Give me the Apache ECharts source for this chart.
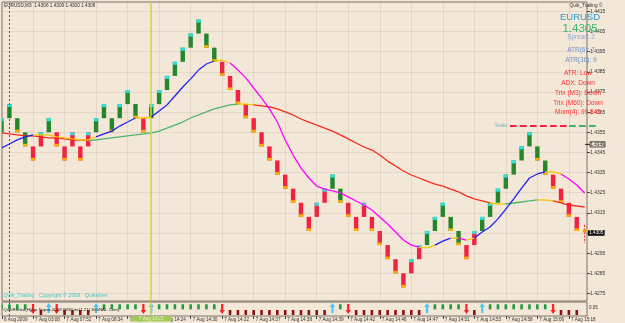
<!DOCTYPE html>
<html><head><meta charset="utf-8">
<script src="https://cdn.jsdelivr.net/npm/echarts@6/dist/echarts.min.js"></script>
<style>html,body{margin:0;padding:0;background:#F3E7D8;}#c{width:625px;height:323px;}</style>
</head><body><div id="c"></div>
<script>
// ---- data ----
const brickOpen = [1.4355,1.4362,1.4362,1.4355,1.4348,1.4348,1.4355,1.4355,1.4348,1.4348,
 1.4348,1.4348,1.4355,1.4362,1.4362,1.4362,1.4369,1.4369,1.4362,1.4362,
 1.4369,1.4376,1.4383,1.4390,1.4397,1.4404,1.4404,1.4397,1.4390,1.4383,
 1.4376,1.4369,1.4362,1.4355,1.4348,1.4341,1.4334,1.4327,1.4320,1.4313,
 1.4313,1.4320,1.4327,1.4327,1.4320,1.4313,1.4313,1.4313,1.4306,1.4299,
 1.4292,1.4285,1.4285,1.4292,1.4299,1.4306,1.4313,1.4313,1.4306,1.4299,
 1.4299,1.4306,1.4313,1.4320,1.4327,1.4334,1.4341,1.4348,1.4348,1.4341,
 1.4334,1.4327,1.4320,1.4313];
const brickClose = [1.4362,1.4369,1.4355,1.4348,1.4341,1.4355,1.4362,1.4348,1.4341,1.4355,
 1.4341,1.4355,1.4362,1.4369,1.4355,1.4369,1.4376,1.4362,1.4355,1.4369,
 1.4376,1.4383,1.4390,1.4397,1.4404,1.4411,1.4397,1.4390,1.4383,1.4376,
 1.4369,1.4362,1.4355,1.4348,1.4341,1.4334,1.4327,1.4320,1.4313,1.4306,
 1.4320,1.4327,1.4334,1.4320,1.4313,1.4306,1.4320,1.4306,1.4299,1.4292,
 1.4285,1.4278,1.4292,1.4299,1.4306,1.4313,1.4320,1.4306,1.4299,1.4292,
 1.4306,1.4313,1.4320,1.4327,1.4334,1.4341,1.4348,1.4355,1.4341,1.4334,
 1.4327,1.4320,1.4313,1.4306];
// 1 = green body, 0 = red body
const brickBody = [1,1,1,1,0,0,1,0,0,0, 0,0,1,1,1,1,1,1,0,1, 1,1,1,1,1,1,1,1,0,0,
 0,0,0,0,0,0,0,0,0,0, 0,0,1,1,0,0,0,0,0,0, 0,0,0,0,1,1,1,1,1,0,
 0,1,1,1,1,1,1,1,1,1, 0,0,0,0];
const curOpen = 1.4306, curHigh = 1.4309, curLow = 1.4300, curClose = 1.4306;
const fastMA = [1.43472,1.43492,1.43512,1.43527,1.43537,1.43537,1.43537,1.43527,1.43522,1.43517,
 1.43512,1.43512,1.43527,1.43542,1.43556,1.43581,1.43601,1.43621,1.43621,1.43626,
 1.43656,1.43686,1.43730,1.43775,1.43815,1.43859,1.43889,1.43904,1.43909,1.43894,
 1.43859,1.43820,1.43770,1.43720,1.43666,1.43601,1.43512,1.43437,1.43373,1.43323,
 1.43283,1.43268,1.43259,1.43249,1.43229,1.43209,1.43189,1.43164,1.43129,1.43095,
 1.43055,1.43015,1.42990,1.42980,1.42976,1.42990,1.43010,1.43025,1.43025,1.43015,
 1.43025,1.43055,1.43080,1.43120,1.43169,1.43219,1.43273,1.43323,1.43343,1.43353,
 1.43353,1.43343,1.43318,1.43288,1.43249];
// 1 rising, 0 turning, -1 falling (segment i -> i+1)
const fastTrend = [1,1,1,1, 0,0,0,0,0,0,0,0, 1,1,1,1,1, 0,0, 1,1,1,1,1,1,1,1, 0,0,
 -1,-1,-1,-1,-1,-1,-1,-1,-1,-1,-1,-1,-1,-1,-1,-1,-1,-1,-1,-1,-1,-1,-1,-1,
 0,0, 1,1, 0, -1, 0, 1,1,1,1,1,1,1,1,1, 0,0, -1,-1,-1];
const slowMA = [1.43547,1.43542,1.43537,1.43532,1.43532,1.43527,1.43522,1.43522,1.43517,1.43512,
 1.43512,1.43507,1.43512,1.43517,1.43522,1.43527,1.43532,1.43537,1.43542,1.43547,
 1.43556,1.43571,1.43586,1.43601,1.43621,1.43636,1.43651,1.43666,1.43676,1.43686,
 1.43690,1.43690,1.43686,1.43681,1.43676,1.43666,1.43651,1.43636,1.43616,1.43601,
 1.43586,1.43571,1.43556,1.43537,1.43517,1.43497,1.43477,1.43462,1.43437,1.43407,
 1.43383,1.43358,1.43338,1.43323,1.43308,1.43293,1.43283,1.43268,1.43254,1.43234,
 1.43219,1.43209,1.43199,1.43194,1.43194,1.43199,1.43204,1.43209,1.43214,1.43214,
 1.43209,1.43199,1.43189,1.43184,1.43179];
const slowTrend = [-1,-1,-1,-1,-1,-1,-1,-1,-1,-1,-1,
 1,1,1,1,1,1,1,1,1,1,1,1,1,1,1,1,1,1,1,
 0,0,
 -1,-1,-1,-1,-1,-1,-1,-1,-1,-1,-1,-1,-1,-1,-1,-1,-1,-1,-1,-1,-1,-1,-1,-1,-1,-1,-1,-1,-1,-1,
 0,0, 1,1,1,1, 0,0, -1,-1,-1,-1];
const priceTicks = [1.4275,1.4285,1.4295,1.4305,1.4315,1.4325,1.4335,1.4345,1.4355,1.4365,1.4375,1.4385,1.4395,1.4405,1.4415];
const timeIdx = [0,4,8,12,16,20,24,28,32,36,40,44,48,52,56,60,64,68,72];
const timeLabels = ['6 Aug 2009','7 Aug 03:08','7 Aug 07:52','7 Aug 08:34','7 Aug 14:22','7 Aug 14:24','7 Aug 14:30',
 '7 Aug 14:32','7 Aug 14:37','7 Aug 14:38','7 Aug 14:39','7 Aug 14:42','7 Aug 14:46','7 Aug 14:47','7 Aug 14:51',
 '7 Aug 14:53','7 Aug 14:58','7 Aug 15:06','7 Aug 15:18'];
const markerIdx = 19, markerTime = '7 Aug 14:23';
const separatorIdx = 1;
const lastPrice = 1.4305, stopPrice = 1.4349;
const infoLines = ['ATR(6): 7','ATR(36): 9'];
const alertLines = ['ATR: Low','ADX: Down','Trix (M3): Down','Trix (M60): Down','Mom(4): 99.845'];

// ---- chart ----
const X0 = 0.06, X1 = 74.30, Y0 = 1.427124, Y1 = 1.441969;
const FONT = 'Liberation Sans';
const BG = '#F3E7D8';
const chart = echarts.init(document.getElementById('c'), null, {renderer:'canvas', width:625, height:323});

const brickData = brickOpen.map((o,i)=>[i,o,brickClose[i],brickBody[i]]);
const fastData = fastMA.slice(0,-1).map((v,i)=>[i,v,fastMA[i+1],fastTrend[i]]);
const slowData = slowMA.slice(0,-1).map((v,i)=>[i,v,slowMA[i+1],slowTrend[i]]);
const sigData = brickBody.map((g,i)=>[i,g,i>0?brickBody[i-1]:g]);

function renderBrick(params, api){
  const i=api.value(0), o=api.value(1), c=api.value(2), g=api.value(3);
  const pT=api.coord([i,Math.max(o,c)]), pB=api.coord([i,Math.min(o,c)]);
  const w=4.4, x=pT[0]-w/2, h=pB[1]-pT[1];
  const ch=[{type:'rect',shape:{x:x,y:pT[1],width:w,height:h},style:{fill:g?'#23862A':'#F4203F'}}];
  if(c>o) ch.push({type:'rect',shape:{x:x,y:pT[1],width:w,height:3},style:{fill:'#2DE3E0'}});
  else ch.push({type:'rect',shape:{x:x,y:pB[1]-2.6,width:w,height:2.6},style:{fill:'#F8B400'}});
  return {type:'group',children:ch};
}
function segRenderer(colors){
  return function(params, api){
    const a=api.coord([api.value(0),api.value(1)]), b=api.coord([api.value(0)+1,api.value(2)]);
    return {type:'line',shape:{x1:a[0],y1:a[1],x2:b[0],y2:b[1]},style:{stroke:colors[api.value(3)+1],lineWidth:1.3}};
  };
}
function renderSig(params, api){
  const i=api.value(0), g=api.value(1), pg=api.value(2);
  const t=api.coord([i,1]), x=t[0], y0=t[1];
  if(g&&pg) return {type:'rect',shape:{x:x-1.3,y:y0+2.3,width:2.6,height:5},style:{fill:'#1E9A3C'}};
  if(!g&&!pg) return {type:'rect',shape:{x:x-1.3,y:y0+8,width:2.6,height:5},style:{fill:'#8E0F14'}};
  if(g) return {type:'polygon',shape:{points:[[x,y0+1],[x+2.7,y0+5],[x+1.1,y0+5],[x+1.1,y0+11],[x-1.1,y0+11],[x-1.1,y0+5],[x-2.7,y0+5]]},style:{fill:'#4CC6F0'}};
  return {type:'polygon',shape:{points:[[x,y0+12],[x+2.7,y0+8],[x+1.1,y0+8],[x+1.1,y0+2],[x-1.1,y0+2],[x-1.1,y0+8],[x-2.7,y0+8]]},style:{fill:'#FF2020'}};
}
function renderCur(params, api){
  const i=api.value(0);
  const h=api.coord([i,api.value(2)]), l=api.coord([i,api.value(3)]), c=api.coord([i,api.value(4)]);
  return {type:'group',children:[
    {type:'line',shape:{x1:h[0],y1:h[1],x2:l[0],y2:l[1]},style:{stroke:'#F02020',lineWidth:1,lineDash:[2,1.5]}},
    {type:'rect',shape:{x:c[0]-2,y:c[1]-1.5,width:4,height:3},style:{fill:'#F8A000'}}
  ]};
}
const gridLine = {type:'solid',color:'rgba(140,130,120,0.16)',width:1};

const option = {
  backgroundColor:BG,
  animation:false,
  grid:[{left:2,top:2,width:585,height:299,show:true,borderColor:'#7A7064',borderWidth:1,backgroundColor:'transparent'},
        {left:2,top:302,width:585,height:14,show:true,borderColor:'#7A7064',borderWidth:1,backgroundColor:'transparent'}],
  xAxis:[
    {type:'value',gridIndex:0,min:X0,max:X1,show:false},
    {type:'value',gridIndex:1,min:X0,max:X1,axisLine:{show:false},splitLine:{show:false},
     axisTick:{show:true,customValues:timeIdx.map(v=>Math.max(v,X0)),length:3,lineStyle:{color:'#444'}},
     axisLabel:{show:true,customValues:timeIdx.map(v=>Math.max(v,X0)),
       formatter:v=>{let k=0,d=1e9;timeIdx.forEach((t,j)=>{if(Math.abs(t-v)<d){d=Math.abs(t-v);k=j;}});return timeLabels[k];},
       fontSize:4.6,fontFamily:FONT,color:'#333',align:'left',margin:1,padding:[0,0,0,2]}}
  ],
  yAxis:[
    {type:'value',gridIndex:0,position:'right',min:Y0,max:Y1,splitLine:{show:false},axisLine:{show:false},
     axisTick:{show:true,customValues:priceTicks,length:3,lineStyle:{color:'#444'}},
     axisLabel:{customValues:priceTicks,formatter:v=>v.toFixed(4),fontSize:5,fontFamily:FONT,color:'#333',margin:3}},
    {type:'value',gridIndex:1,min:0,max:1,show:false}
  ],
  series:[
    {type:'line',xAxisIndex:0,yAxisIndex:0,data:[],silent:true,z:1,
     markLine:{silent:true,symbol:'none',precision:6,label:{show:false},animation:false,
       data:[...priceTicks.map(v=>({yAxis:v,lineStyle:gridLine})),
             ...timeIdx.map(v=>({xAxis:v,lineStyle:gridLine})),
             {xAxis:separatorIdx,lineStyle:{type:[2,2],color:'#555',width:1}},
             {xAxis:markerIdx,lineStyle:{type:'solid',color:'#CCD64A',width:1.5}}]}},
    {type:'line',xAxisIndex:1,yAxisIndex:1,data:[],silent:true,z:1,
     markLine:{silent:true,symbol:'none',precision:6,label:{show:false},animation:false,
       data:[{xAxis:separatorIdx,lineStyle:{type:[2,2],color:'#555',width:1}},
             {xAxis:markerIdx,lineStyle:{type:'solid',color:'#CCD64A',width:1.5}}]}},
    {type:'custom',xAxisIndex:0,yAxisIndex:0,data:brickData,renderItem:renderBrick,clip:true,z:3,silent:true},
    {type:'custom',xAxisIndex:0,yAxisIndex:0,data:slowData,renderItem:segRenderer(['#F52A1A','#F5C800','#4DB36B']),clip:true,z:4,silent:true},
    {type:'custom',xAxisIndex:0,yAxisIndex:0,data:fastData,renderItem:segRenderer(['#FF00FF','#F5C800','#2222EE']),clip:true,z:5,silent:true},
    {type:'custom',xAxisIndex:0,yAxisIndex:0,data:[[74,curOpen,curHigh,curLow,curClose]],renderItem:renderCur,clip:false,z:6,silent:true},
    {type:'custom',xAxisIndex:1,yAxisIndex:1,data:sigData,renderItem:renderSig,clip:true,z:3,silent:true}
  ]
};
chart.setOption(option);

// overlays positioned through the chart's own scales
const yLast = chart.convertToPixel({yAxisIndex:0}, lastPrice);
const yStop = chart.convertToPixel({yAxisIndex:0}, stopPrice);
const xMark = chart.convertToPixel({xAxisIndex:1}, markerIdx);
const T = (x,y,text,size,color,align,extra)=>Object.assign({type:'text',x:x,y:y,z:100,style:{text:text,fontSize:size,fontFamily:FONT,fill:color,align:align||'left',verticalAlign:'middle'}},extra||{});
const g = [];
g.push(T(4,5.5,'EURUSD,M3  1.4306 1.4309 1.4300 1.4306',4.7,'#333'));
g.push(T(586,5.5,'Quik_Trailing \u00A9',4.8,'#333','center'));
g.push(T(580,17,'EURUSD',9.5,'#2E9AD0','center'));
g.push(T(580,28.5,'1.4305',11.5,'#3CB46E','center'));
g.push(T(581,37.5,'Spread: 2',6.3,'#8AA8D8','center'));
infoLines.forEach((s,k)=>g.push(T(581,50+k*10,s,6.5,'#7090C0','center')));
alertLines.forEach((s,k)=>g.push(T(578,73.5+k*9.8,s,6.5,'#FF3333','center')));
g.push(T(495,126,'Snake',4.5,'#7FB0C0'));
g.push({type:'line',z:100,shape:{x1:510,y1:126,x2:570,y2:126},style:{stroke:'#F4203F',lineWidth:2,lineDash:[6.7,3.3]}});
g.push({type:'line',z:100,shape:{x1:569,y1:126,x2:597,y2:126},style:{stroke:'#3CB46E',lineWidth:2,lineDash:[6.7,3.3]}});
g.push({type:'line',z:100,shape:{x1:585,y1:yStop,x2:590,y2:yStop},style:{stroke:'#222',lineWidth:1}});
g.push({type:'rect',z:100,shape:{x:590,y:yStop-2.6,width:15,height:5.2},style:{fill:BG,stroke:'#222',lineWidth:0.8}});
g.push(T(597.5,yStop,stopPrice.toFixed(4),4.5,'#111','center',{z:101}));
g.push({type:'rect',z:100,shape:{x:588,y:yLast-2.8,width:16.5,height:5.6},style:{fill:'#111'}});
g.push(T(596.3,yLast,lastPrice.toFixed(4),4.6,'#fff','center',{z:101}));
g.push(T(3.5,295.5,'Quik_Trailing   Copyright \u00A9 2009   Quiksilver',5.3,'#3FC7C7'));
g.push(T(3.5,310,'QuikRenko(H)/ne Super-2009 (M3/Lite(1,21) SIGNAL Cum)',4.4,'#222'));
g.push(T(589,308,'0.05',4.5,'#333'));
g.push({type:'rect',z:100,shape:{x:xMark-20,y:316.5,width:40,height:5},style:{fill:'#A3CC57'}});
g.push(T(xMark,319,markerTime,4.5,'#E6F2C8','center',{z:101}));
chart.setOption({graphic:g});
</script></body></html>
